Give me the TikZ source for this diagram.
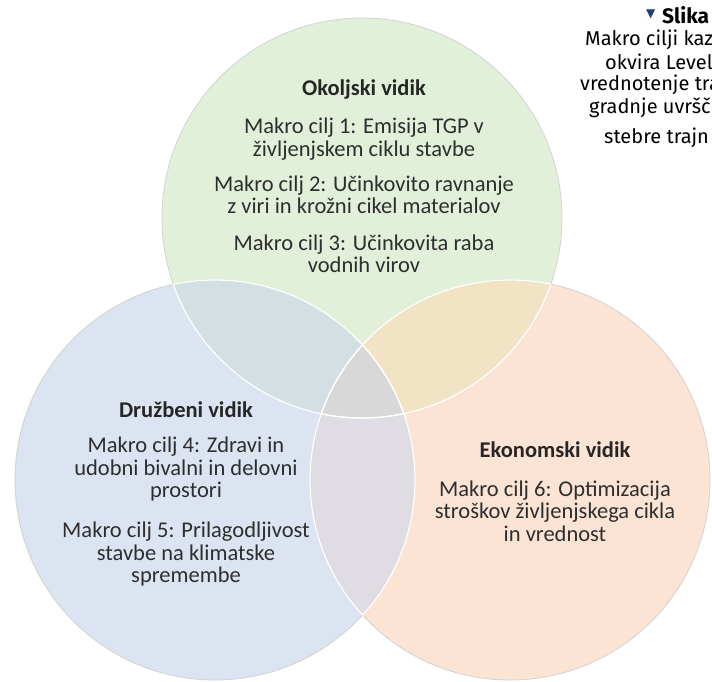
\documentclass[tikz,border=0pt]{standalone}
\usepackage{fontspec}
\setmainfont{Carlito}
\newfontfamily\capfont{Fira Sans}
\newfontfamily\symfont{DejaVu Sans}
\usepackage{tikz}

\definecolor{envgreen}{RGB}{226,240,218}
\definecolor{socblue}{RGB}{220,228,241}
\definecolor{ecoorange}{RGB}{252,228,212}
\definecolor{envsoc}{RGB}{211,223,227}
\definecolor{enveco}{RGB}{243,227,197}
\definecolor{soceco}{RGB}{223,220,227}
\definecolor{allthree}{RGB}{217,216,217}
\definecolor{capblue}{RGB}{32,58,128}

\begin{document}
\begin{tikzpicture}[x=1pt,y=-1pt,
    title/.style={inner sep=0pt,text=black!85,font=\bfseries\fontsize{22.5}{23}\selectfont},
    goal/.style={inner sep=0pt,align=center,text=black!82,font=\fontsize{22.5}{22.5}\selectfont},
    captxt/.style={inner sep=0pt,anchor=west,font=\capfont\fontsize{20}{23}\selectfont},
    outline/.style={draw=gray!35,line width=0.8pt},
    seam/.style={draw=white,line width=1.2pt}]
            \def\circE{(362,218) circle (200pt)}
            \def\circS{(215,480) circle (200pt)}
            \def\circK{(510,480) circle (200pt)}
            \useasboundingbox (0,0) rectangle (712,681);

            % one colour per aspect
            \fill[envgreen] \circE;
            \fill[socblue] \circS;
            \fill[ecoorange] \circK;

            % two aspects
            \begin{scope}
                \clip \circE;
                \fill[envsoc] \circS;
            \end{scope}
            \begin{scope}
                \clip \circE;
                \fill[enveco] \circK;
            \end{scope}
            \begin{scope}
                \clip \circS;
                \fill[soceco] \circK;
            \end{scope}

            % all three
            \begin{scope}
                \clip \circE;
                \clip \circS;
                \fill[allthree] \circK;
            \end{scope}

            % edges
            \draw[outline] \circE \circS \circK;
            \begin{scope}
                \clip \circE;
                \draw[seam] \circS \circK;
            \end{scope}
            \begin{scope}
                \clip \circS;
                \draw[seam] \circE \circK;
            \end{scope}
            \begin{scope}
                \clip \circK;
                \draw[seam] \circE \circS;
            \end{scope}

            % Okoljski vidik
            \node[title] (envtitle) at (364,90) {Okoljski vidik};
            \node[goal] (goal1) at (364,139) {Makro cilj 1: Emisija TGP v\\življenjskem ciklu stavbe};
            \node[goal] (goal2) at (364,195) {Makro cilj 2: Učinkovito ravnanje\\z viri in krožni cikel materialov};
            \node[goal] (goal3) at (364,254) {Makro cilj 3: Učinkovita raba\\vodnih virov};

            % Druzbeni vidik
            \node[title] (soctitle) at (186,410) {Družbeni vidik};
            \node[goal] (goal4) at (186,469) {Makro cilj 4: Zdravi in\\udobni bivalni in delovni\\prostori};
            \node[goal] (goal5) at (186,554) {Makro cilj 5: Prilagodljivost\\stavbe na klimatske\\spremembe};

            % Ekonomski vidik
            \node[title] (ecotitle) at (555,450) {Ekonomski vidik};
            \node[goal] (goal6) at (555,511) {Makro cilj 6: Optimizacija\\stroškov življenjskega cikla\\in vrednost};

            % caption, cut at the right edge
            \begin{scope}
                \clip (0,0) rectangle (712,681);
                \node[captxt] (capmark) at (646,14) {\symfont\fontsize{12}{12}\selectfont\color{capblue}▼};
                \node[captxt] (capt0) at (662,15) {\bfseries\fontsize{21}{23}\selectfont Slika};
                \node[captxt] (capt1) at (585,40) {Makro cilji kaz};
                \node[captxt] (capt2) at (605,62) {okvira Level};
                \node[captxt] (capt3) at (580,85) {vrednotenje tra};
                \node[captxt] (capt4) at (589,108) {gradnje uvršč};
                \node[captxt] (capt5) at (604,138) {stebre trajn};
            \end{scope}
        \end{tikzpicture}
\end{document}
